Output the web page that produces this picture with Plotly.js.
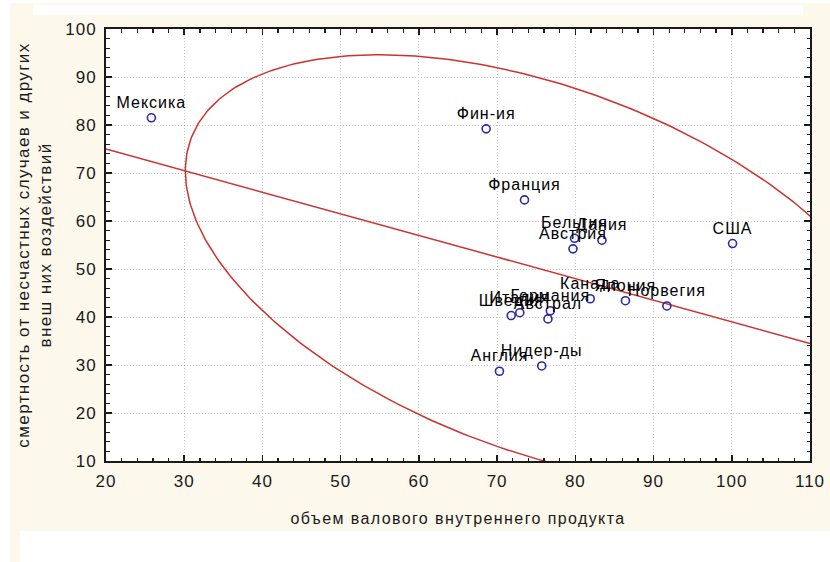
<!DOCTYPE html>
<html>
<head>
<meta charset="utf-8">
<script src="https://cdn.plot.ly/plotly-3.0.1.min.js"></script>
<style>
html, body { margin: 0; padding: 0; background: #ffffff; }
#chart { width: 830px; height: 562px; }
#chart text { letter-spacing: 1px; }
#chart text.xtitle, #chart text.ytitle { letter-spacing: 1.4px; }
</style>
</head>
<body>
<div id="chart"></div>
<script>
// ---- data ----
const countries = ['Мексика', 'Фин-ия', 'Франция', 'США', 'Бельгия', 'Дания', 'Австрия',
  'Швеция', 'Италия', 'Германия', 'Австрал', 'Канада', 'Япония', 'Норвегия', 'Англия', 'Нидер-ды'];
const gdp = [25.8, 68.6, 73.5, 100.1, 79.9, 83.4, 79.7,
  71.8, 72.9, 76.8, 76.5, 81.9, 86.4, 91.7, 70.3, 75.7];
const mortality = [81.5, 79.2, 64.4, 55.3, 56.4, 56.0, 54.2,
  40.3, 40.9, 41.3, 39.6, 43.8, 43.4, 42.3, 28.7, 29.8];
const xTicks = [20, 30, 40, 50, 60, 70, 80, 90, 100, 110];
const yTicks = [10, 20, 30, 40, 50, 60, 70, 80, 90, 100];
const xTitle = 'объем валового внутреннего продукта';
const yTitle = 'смертность от несчастных случаев и других<br>внеш них воздействий';

// ---- derived statistics: OLS line and 95% prediction ellipse ----
const n = gdp.length;
const mx = gdp.reduce((a, b) => a + b, 0) / n;
const my = mortality.reduce((a, b) => a + b, 0) / n;
let sxx = 0, syy = 0, sxy = 0;
for (let i = 0; i < n; i++) {
  const dx = gdp[i] - mx, dy = mortality[i] - my;
  sxx += dx * dx; syy += dy * dy; sxy += dx * dy;
}
const slope = sxy / sxx;
const intercept = my - slope * mx;
const lineX = [xTicks[0], xTicks[xTicks.length - 1]];
const lineY = lineX.map(v => intercept + slope * v);

const vx = sxx / (n - 1), vy = syy / (n - 1), cxy = sxy / (n - 1);
const F95 = 3.7389; // F(2, n-2 = 14), 0.95
const k = Math.sqrt(2 * (n - 1) * (n + 1) / (n * (n - 2)) * F95);
const L11 = Math.sqrt(vx), L21 = cxy / L11, L22 = Math.sqrt(vy - L21 * L21);
const ellX = [], ellY = [];
for (let j = 0; j <= 360; j++) {
  const t = j * Math.PI / 180;
  ellX.push(mx + k * L11 * Math.cos(t));
  ellY.push(my + k * (L21 * Math.cos(t) + L22 * Math.sin(t)));
}

const font = 'Liberation Sans, Arial, sans-serif';
const red = '#cc3330';

const traces = [
  { x: ellX, y: ellY, mode: 'lines', line: { color: red, width: 1.5 }, hoverinfo: 'skip' },
  { x: lineX, y: lineY, mode: 'lines', line: { color: red, width: 1.5 }, hoverinfo: 'skip' },
  { x: gdp, y: mortality, mode: 'markers+text', text: countries, textposition: 'top center',
    textfont: { family: font, size: 16, color: '#000000' },
    marker: { symbol: 'circle-open', size: 8, color: '#2a2aa8', line: { width: 1.6, color: '#2a2aa8' } },
    cliponaxis: false }
];

// page-frame conversion helpers for background shapes (paper coords)
const L = 106, R = 20, T = 29, B = 101, W = 830, H = 562;
const pw = W - L - R, ph = H - T - B;
const px = v => (v - L) / pw;
const py = v => (H - B - v) / ph;

const axisCommon = {
  showline: true, linecolor: '#1a1a1a', linewidth: 2, mirror: 'allticks',
  ticks: 'inside', ticklen: 6, tickwidth: 1.5, tickcolor: '#1a1a1a',
  showgrid: true, gridcolor: '#c8c8c8', griddash: '1px,2px', gridwidth: 1,
  zeroline: false, tickmode: 'array',
  tickfont: { family: font, size: 17, color: '#1a1a1a' },
  minor: { dtick: 2, ticks: 'inside', ticklen: 3.5, tickwidth: 1.3, tickcolor: '#1a1a1a', showgrid: false },
  ticklabelstandoff: 4
};

const layout = {
  width: W, height: H,
  margin: { l: L, r: R, t: T, b: B, pad: 0 },
  paper_bgcolor: '#fcf8ec', plot_bgcolor: '#ffffff',
  showlegend: false,
  xaxis: Object.assign({}, axisCommon, {
    range: [20, 110], tickvals: xTicks, ticktext: xTicks.map(String),
    title: { text: xTitle, font: { family: font, size: 16, color: '#1a1a1a' }, standoff: 22 }
  }),
  yaxis: Object.assign({}, axisCommon, {
    range: [10, 100], tickvals: yTicks, ticktext: yTicks.map(String),
    title: { text: yTitle, font: { family: font, size: 17, color: '#1a1a1a' }, standoff: 12 }
  }),
  shapes: [
    { type: 'rect', xref: 'paper', yref: 'paper', x0: px(0), x1: px(10), y0: py(562), y1: py(0), fillcolor: '#ffffff', line: { width: 0 }, layer: 'below' },
    { type: 'rect', xref: 'paper', yref: 'paper', x0: px(0), x1: px(830), y0: py(3), y1: py(0), fillcolor: '#ffffff', line: { width: 0 }, layer: 'below' },
    { type: 'rect', xref: 'paper', yref: 'paper', x0: px(33), x1: px(803), y0: py(15), y1: py(5), fillcolor: '#ffffff', line: { width: 0 }, layer: 'below' },
    { type: 'rect', xref: 'paper', yref: 'paper', x0: px(20), x1: px(830), y0: py(562), y1: py(531), fillcolor: '#ffffff', line: { width: 0 }, layer: 'below' }
  ]
};

Plotly.newPlot('chart', traces, layout, { displayModeBar: false, staticPlot: true });
</script>
</body>
</html>
